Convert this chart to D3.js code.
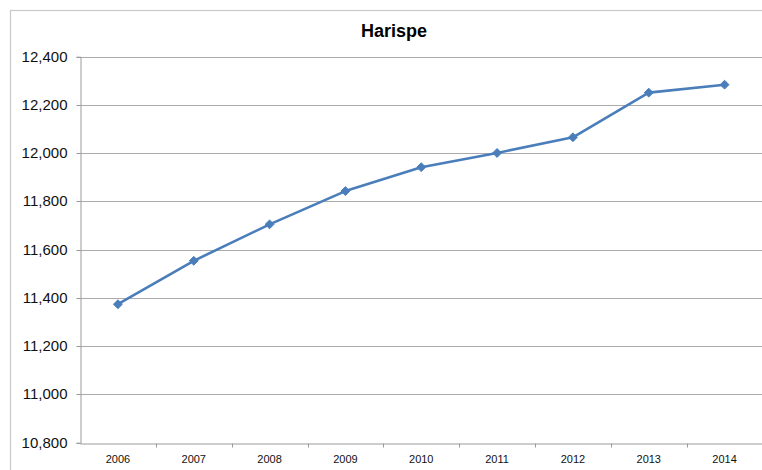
<!DOCTYPE html>
<html><head><meta charset="utf-8">
<script src="https://cdn.jsdelivr.net/npm/d3@7"></script>
<style>body{margin:0;background:#fff}svg{display:block}</style>
</head><body>
<script>
const years = ["2006","2007","2008","2009","2010","2011","2012","2013","2014"];
const values = [11374, 11554, 11705, 11843, 11942, 12001, 12066, 12251, 12284];
const yTicks = [10800, 11000, 11200, 11400, 11600, 11800, 12000, 12200, 12400];
const title = "Harispe";

const W = 762, H = 470;
const svg = d3.select("body").append("svg").attr("width", W).attr("height", H);
svg.append("rect").attr("x", 10.5).attr("y", 10.5).attr("width", 767).attr("height", 470)
  .attr("fill", "#fff").attr("stroke", "#c8c8c8").attr("stroke-width", 1.2);

const pLeft = 80, pRight = 762.5, pTop = 56.7, pBottom = 442.7;
const x = d3.scaleBand().domain(years).range([pLeft, pRight]);
const y = d3.scaleLinear().domain([10800, 12400]).range([pBottom, pTop]);

// gridlines
svg.append("g").selectAll("line").data(yTicks.slice(1)).join("line")
  .attr("x1", pLeft).attr("x2", pRight)
  .attr("y1", d => Math.round(y(d)) + 0.5).attr("y2", d => Math.round(y(d)) + 0.5)
  .attr("stroke", "#ababab").attr("stroke-width", 1);

// y axis
const yAxis = svg.append("g").attr("transform", `translate(${pLeft + 0.5},0)`)
  .call(d3.axisLeft(y).tickValues(yTicks).tickFormat(d3.format(",")).tickSize(4).tickPadding(9));
yAxis.select(".domain").attr("stroke", "#9a9a9a");
yAxis.selectAll(".tick line").attr("stroke", "#9a9a9a");
yAxis.selectAll(".tick text").attr("font-family", "Liberation Sans, Arial, sans-serif")
  .attr("font-size", 15).attr("fill", "#111");
yAxis.selectAll(".tick").attr("transform", d => `translate(0,${Math.round(y(d)) + 0.5})`);

// x axis
const xAxis = svg.append("g").attr("transform", `translate(0,${Math.round(pBottom) + 0.5})`)
  .call(d3.axisBottom(x).tickSize(0).tickPadding(12));
xAxis.select(".domain").attr("stroke", "#9a9a9a");
xAxis.selectAll(".tick text").attr("font-family", "Liberation Sans, Arial, sans-serif")
  .attr("font-size", 11).attr("fill", "#111");
// category boundary ticks
xAxis.append("g").selectAll("line").data(years.slice(1)).join("line")
  .attr("x1", d => Math.round(x(d)) + 0.5).attr("x2", d => Math.round(x(d)) + 0.5)
  .attr("y1", 0).attr("y2", 4).attr("stroke", "#9a9a9a");

// line
const cx = d => x(d) + x.bandwidth() / 2;
const data = years.map((yr, i) => ({yr, v: values[i]}));
svg.append("path").datum(data)
  .attr("d", d3.line().x(d => cx(d.yr)).y(d => y(d.v)))
  .attr("fill", "none").attr("stroke", "#4a7ebb").attr("stroke-width", 2.6)
  .attr("stroke-linejoin", "round");

svg.append("g").selectAll("path").data(data).join("path")
  .attr("d", d3.symbol(d3.symbolDiamond2, 50))
  .attr("transform", d => `translate(${cx(d.yr)},${y(d.v)})`)
  .attr("fill", "#4a7ebb").attr("stroke", "#4a7ebb").attr("stroke-width", 1);

// title
svg.append("text").attr("x", 394).attr("y", 37).attr("text-anchor", "middle")
  .attr("font-family", "Liberation Sans, Arial, sans-serif").attr("font-weight", "bold")
  .attr("font-size", 18).attr("fill", "#000").text(title);
</script>
</body></html>
